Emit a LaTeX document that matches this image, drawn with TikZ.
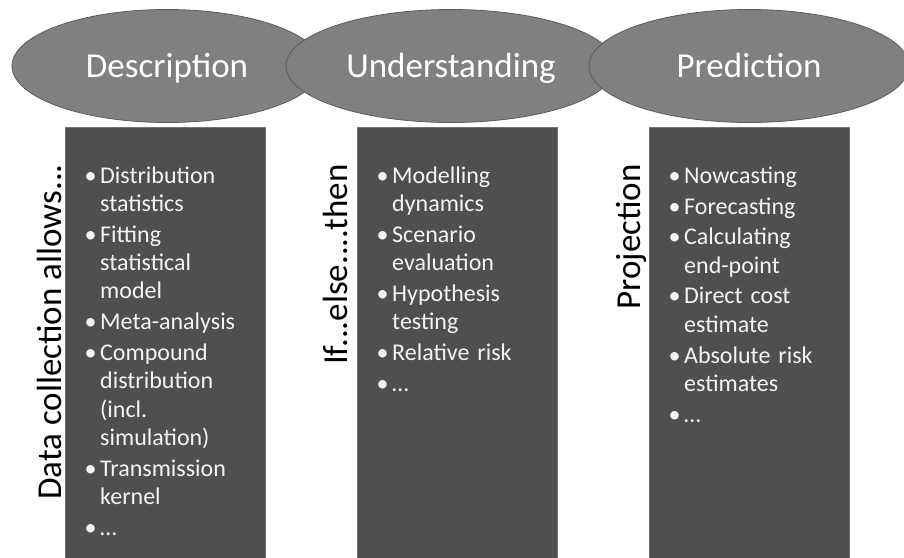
\documentclass[tikz,border=0pt]{standalone}
\usepackage{fontspec}
\setmainfont{Carlito}
\usetikzlibrary{shapes.geometric}
\definecolor{ovalgray}{HTML}{808080}
\definecolor{ovaledge}{HTML}{5C5C5C}
\definecolor{boxgray}{HTML}{4F4F4F}
\definecolor{itemwhite}{HTML}{F4F4F4}
\newcommand{\bitem}[1]{\noindent\hangindent=17pt\hangafter=1\makebox[17pt][l]{\hspace{1.5pt}•}\strut#1\par}
\begin{document}
\begin{tikzpicture}[x=1pt, y=1pt,
  oval/.style={draw=ovaledge, line width=0.8pt, fill=ovalgray, ellipse, minimum height=113pt, inner sep=0pt, text=white, font=\fontsize{35}{42}\selectfont, text height=22.5pt, text depth=0pt},
  column/.style={fill=boxgray, draw=boxgray!80!white, line width=0.5pt, minimum width=200pt, minimum height=440pt, anchor=north west, inner sep=0pt},
  items/.style={anchor=north west, inner sep=0pt, text width=178pt, text=itemwhite, font=\fontsize{24}{28.3}\selectfont\setlength{\parskip}{2.5pt}},
  side/.style={rotate=90, anchor=base east, inner sep=0pt, font=\fontsize{35}{42}\selectfont}]
\useasboundingbox (0,0) rectangle (904,-557);
\node (desc) [oval, minimum width=310pt] at (167,-66) {Description};
\node (und) [oval, minimum width=330pt] at (451,-66) {Understanding};
\node (pred) [oval, minimum width=320pt] at (749,-66) {Prediction};
\node (descbox) [column] at (65,-127) {};
\node (undbox) [column] at (357,-127) {};
\node (predbox) [column] at (649,-127) {};
\node (desclist) [items] at ([xshift=18pt, yshift=-36.2pt]descbox.north west) {%
\bitem{Distribution\newline statistics}
\bitem{Fitting\newline statistical\newline model}
\bitem{Meta-analysis}
\bitem{Compound\newline distribution\newline (incl.\newline simulation)}
\bitem{Transmission\newline kernel}
\bitem{…}};
\node (undlist) [items] at ([xshift=18pt, yshift=-36.2pt]undbox.north west) {%
\bitem{Modelling\newline dynamics}
\bitem{Scenario\newline evaluation}
\bitem{Hypothesis\newline testing}
\bitem{Relative risk}
\bitem{…}};
\node (predlist) [items] at ([xshift=18pt, yshift=-36.2pt]predbox.north west) {%
\bitem{Nowcasting}
\bitem{Forecasting}
\bitem{Calculating\newline end-point}
\bitem{Direct cost\newline estimate}
\bitem{Absolute risk\newline estimates}
\bitem{…}};
\node (desctag) [side] at ([xshift=-4pt, yshift=-37pt]descbox.north west) {Data collection allows...};
\node (undtag) [side] at ([xshift=-10pt, yshift=-37pt]undbox.north west) {If...else....then};
\node (predtag) [side] at ([xshift=-9pt, yshift=-37pt]predbox.north west) {Projection};
\end{tikzpicture}
\end{document}
